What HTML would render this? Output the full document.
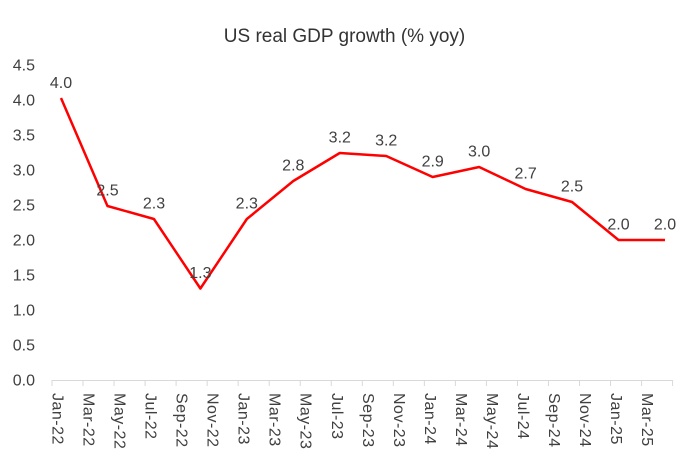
<!DOCTYPE html>
<html><head><meta charset="utf-8"><style>
html,body{margin:0;padding:0;background:#fff;}
svg{display:block;}
text{font-family:"Liberation Sans",sans-serif;}
</style></head><body>
<svg width="690" height="472" viewBox="0 0 690 472" xmlns="http://www.w3.org/2000/svg">
<rect width="690" height="472" fill="#fff"/>
<text x="344.5" y="42" font-size="19" fill="#333" text-anchor="middle">US real GDP growth (% yoy)</text>
<g font-size="16" fill="#404040" text-anchor="end">
<text x="35" y="70.5">4.5</text>
<text x="35" y="105.5">4.0</text>
<text x="35" y="140.5">3.5</text>
<text x="35" y="175.5">3.0</text>
<text x="35" y="210.5">2.5</text>
<text x="35" y="245.5">2.0</text>
<text x="35" y="280.5">1.5</text>
<text x="35" y="315.5">1.0</text>
<text x="35" y="350.5">0.5</text>
<text x="35" y="385.5">0.0</text>
</g>
<g stroke="#d9d9d9" stroke-width="1">
<line x1="52" y1="380.5" x2="672.6" y2="380.5"/>
<path d="M52 380v6M83.03 380v6M114.06 380v6M145.09 380v6M176.12 380v6M207.15 380v6M238.18 380v6M269.21 380v6M300.24 380v6M331.27 380v6M362.3 380v6M393.33 380v6M424.36 380v6M455.39 380v6M486.42 380v6M517.45 380v6M548.48 380v6M579.51 380v6M610.54 380v6M641.57 380v6M672.6 380v6"/>
</g>
<g font-size="16" fill="#404040" letter-spacing="0.5">
<text transform="translate(52.5,393) rotate(90)">Jan-22</text>
<text transform="translate(83.5,393) rotate(90)">Mar-22</text>
<text transform="translate(114.5,393) rotate(90)">May-22</text>
<text transform="translate(145.6,393) rotate(90)">Jul-22</text>
<text transform="translate(176.6,393) rotate(90)">Sep-22</text>
<text transform="translate(207.6,393) rotate(90)">Nov-22</text>
<text transform="translate(238.7,393) rotate(90)">Jan-23</text>
<text transform="translate(269.7,393) rotate(90)">Mar-23</text>
<text transform="translate(300.7,393) rotate(90)">May-23</text>
<text transform="translate(331.8,393) rotate(90)">Jul-23</text>
<text transform="translate(362.8,393) rotate(90)">Sep-23</text>
<text transform="translate(393.8,393) rotate(90)">Nov-23</text>
<text transform="translate(424.9,393) rotate(90)">Jan-24</text>
<text transform="translate(455.9,393) rotate(90)">Mar-24</text>
<text transform="translate(486.9,393) rotate(90)">May-24</text>
<text transform="translate(518,393) rotate(90)">Jul-24</text>
<text transform="translate(549,393) rotate(90)">Sep-24</text>
<text transform="translate(580,393) rotate(90)">Nov-24</text>
<text transform="translate(611,393) rotate(90)">Jan-25</text>
<text transform="translate(642,393) rotate(90)">Mar-25</text>
</g>
<polyline fill="none" stroke="#ff0000" stroke-width="2.5" stroke-linejoin="round" points="61,98 107.46,206 153.92,219 200.38,288.5 246.84,219 293.3,181 339.76,153 386.22,156 432.68,177 479.14,167 525.6,189 572.06,202 618.52,240 664.98,240"/>
<g font-size="16" fill="#404040" text-anchor="middle">
<text x="61" y="88">4.0</text>
<text x="107.5" y="195.5">2.5</text>
<text x="154" y="208.5">2.3</text>
<text x="200.4" y="278">1.3</text>
<text x="246.8" y="208.5">2.3</text>
<text x="293.3" y="170.5">2.8</text>
<text x="339.8" y="142.5">3.2</text>
<text x="386.2" y="145.5">3.2</text>
<text x="432.7" y="166.5">2.9</text>
<text x="479.1" y="156.5">3.0</text>
<text x="525.6" y="178.5">2.7</text>
<text x="572" y="191.5">2.5</text>
<text x="618.5" y="229.5">2.0</text>
<text x="665" y="229.5">2.0</text>
</g>
</svg>
</body></html>
